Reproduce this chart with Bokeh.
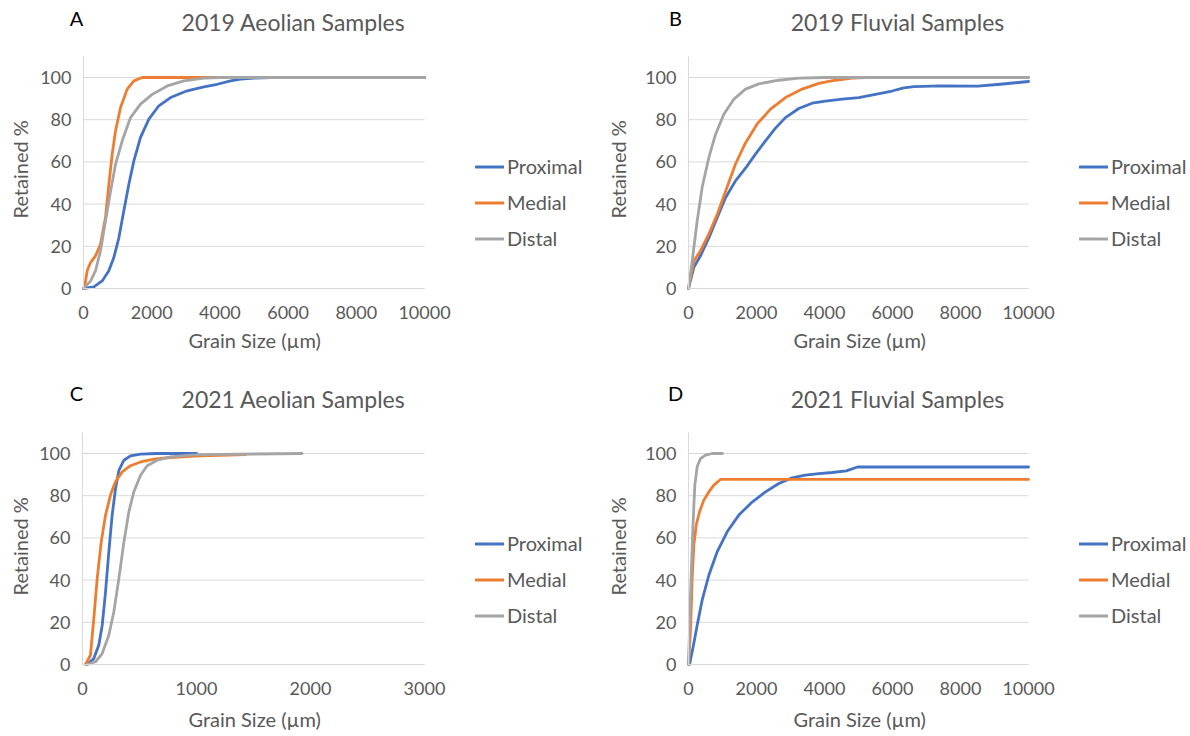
from bokeh.plotting import figure
from bokeh.models import Legend, LegendItem, Label, FixedTicker, Range1d, Title
from bokeh.layouts import column, row
from bokeh.embed import file_html
from bokeh.resources import INLINE

# ---------------- data ----------------
series_names = ["Proximal", "Medial", "Distal"]
colors = ["#4472C4", "#ED7D31", "#A5A5A5"]

# A: 2019 Aeolian
a_prox_x = [0, 303, 548, 743, 890, 1037, 1183, 1330, 1477, 1672, 1917, 2210, 2553, 3042, 3531, 3922, 4313, 4607, 5000, 5500, 10000]
a_prox_y = [0, 0.8, 3.6, 8.4, 14.7, 24, 36.8, 49.4, 60.5, 71.6, 80.3, 86.6, 90.5, 93.7, 95.6, 96.8, 98.4, 99.2, 99.7, 100, 100]
a_med_x = [0, 29, 108, 205, 352, 499, 645, 743, 841, 939, 1086, 1281, 1477, 1721, 10000]
a_med_y = [0, 0.5, 8.4, 12.3, 15.5, 21, 33.6, 49.4, 63.6, 74.7, 85.8, 94.5, 98.4, 100, 100]
a_dist_x = [0, 205, 352, 499, 645, 792, 939, 1135, 1379, 1672, 2015, 2455, 2944, 3531, 4020, 10000]
a_dist_y = [0, 3.5, 8.4, 17.9, 32, 46, 58.8, 70, 81, 87.4, 92, 96, 98.4, 99.7, 100, 100]

# B: 2019 Fluvial
b_prox_x = [0, 157, 353, 598, 843, 1088, 1382, 1676, 1970, 2264, 2558, 2852, 3244, 3636, 4028, 4518, 5008, 5498, 5988, 6331, 6630, 7403, 8508, 9171, 10000]
b_prox_y = [0, 10, 15.5, 24, 33.6, 43, 51, 57, 63.7, 70, 76, 81, 85.3, 87.8, 88.8, 89.7, 90.5, 92, 93.6, 95.1, 95.7, 96, 95.9, 96.8, 98.1]
b_med_x = [0, 157, 353, 598, 843, 1088, 1382, 1676, 2019, 2411, 2852, 3342, 3832, 4322, 4812, 5204, 10000]
b_med_y = [0, 13, 17.9, 25.8, 35, 46, 59, 69, 78, 85, 90.5, 94.5, 97.2, 98.7, 99.7, 100, 100]
b_dist_x = [0, 108, 255, 402, 598, 794, 1039, 1333, 1676, 2068, 2656, 3244, 4028, 10000]
b_dist_y = [0, 13, 32, 48, 62, 73, 82.6, 89.7, 94.5, 97, 98.7, 99.7, 100, 100]

# C: 2021 Aeolian
c_prox_x = [41, 99, 143, 173, 202, 231, 260, 290, 319, 363, 421, 509, 655, 1000]
c_prox_y = [0, 2.8, 9.2, 18.6, 34.4, 53.4, 70.8, 83.4, 92, 96.8, 98.9, 99.7, 100, 100]
c_med_x = [26, 70, 99, 129, 164, 202, 246, 290, 348, 421, 509, 626, 772, 947, 1035, 1279, 1428]
c_med_y = [0, 4.4, 21.8, 40.8, 58, 70.8, 80.4, 86.7, 91.3, 94.2, 96, 97.3, 98.1, 98.7, 98.9, 99.3, 99.5]
c_dist_x = [41, 114, 173, 231, 275, 319, 363, 407, 450, 509, 567, 655, 772, 947, 1035, 1926]
c_dist_y = [0, 1.3, 5.2, 13.9, 25, 40.8, 58, 72.4, 81.8, 89.7, 94.2, 96.8, 98.4, 99.2, 99.5, 100]

# D: 2021 Fluvial
d_prox_x = [30, 128, 255, 402, 598, 843, 1137, 1480, 1872, 2264, 2656, 3048, 3440, 3832, 4224, 4641, 4972, 10000]
d_prox_y = [0, 7.6, 18.6, 30.5, 42.3, 53.4, 62.9, 70.8, 77, 81.8, 85.8, 88.5, 89.7, 90.5, 91, 91.8, 93.6, 93.6]
d_med_x = [0, 59, 108, 157, 226, 324, 451, 598, 745, 941, 10000]
d_med_y = [0, 15.5, 40.8, 56.6, 66, 72.4, 77.9, 81.8, 85, 87.7, 87.7]
d_dist_x = [0, 59, 128, 186, 255, 353, 500, 696, 1000]
d_dist_y = [0, 32.9, 64.5, 85, 93.7, 97.6, 99.2, 100, 100]

y_ticks = [0, 20, 40, 60, 80, 100]
x_ticks_10k = [0, 2000, 4000, 6000, 8000, 10000]
x_ticks_3k = [0, 1000, 2000, 3000]

TXT = "#595959"
GRID = "#d9d9d9"
FONT = "Lato"
W = 595
H = 368
YMAX = 110


def panel(series, xmax, xticks, title, letter, geo):
    # geo: pixel geometry of this panel (layout only)
    fl = geo["frame_left"]        # left edge of the frame
    fb = geo["frame_bottom"]      # bottom edge of the frame
    x0 = geo["x0"]                # pixel of x = 0
    x1 = geo["x1"]                # pixel of x = xmax
    yb = geo["y0"]                # pixel of y = 0
    y100 = geo["y100"]            # pixel of y = 100
    ux = xmax / (x1 - x0)
    uy = 100.0 / (yb - y100)
    p = figure(width=W, height=H, output_backend="svg", toolbar_location=None,
               x_range=Range1d((fl - x0) * ux, (W - x0) * ux),
               y_range=Range1d(-(fb - yb) * uy, yb * uy),
               min_border_left=fl, min_border_right=0,
               min_border_top=0, min_border_bottom=H - fb)
    p.outline_line_color = None
    p.title.text = ""

    def dx(px):
        return (px - x0) * ux

    def dy(py):
        return (yb - py) * uy

    # horizontal gridlines at the tick values, spanning the axis extent
    p.segment(x0=[0] * len(y_ticks), x1=[xmax] * len(y_ticks), y0=y_ticks, y1=y_ticks,
              line_color=GRID, line_width=1, level="underlay")

    items = []
    for (xs, ys), name, col in zip(series, series_names, colors):
        r = p.line(xs, ys, line_color=col, line_width=2.8, line_join="round", line_cap="round")
        items.append(LegendItem(label=name, renderers=[r]))

    p.grid.visible = False
    p.xaxis.ticker = FixedTicker(ticks=xticks)
    p.yaxis.ticker = FixedTicker(ticks=y_ticks)
    p.xaxis.bounds = (0, xmax)
    p.yaxis.bounds = (0, YMAX)
    p.yaxis.fixed_location = 0
    p.xaxis.fixed_location = 0
    for ax in (p.xaxis, p.yaxis):
        ax.axis_line_color = GRID
        ax.axis_line_width = 1
        ax.major_tick_line_color = None
        ax.minor_tick_line_color = None
        ax.major_tick_out = 0
        ax.major_tick_in = 0
        ax.minor_tick_out = 0
        ax.minor_tick_in = 0
        ax.major_label_text_color = TXT
        ax.major_label_text_font = FONT
        ax.major_label_text_font_size = "18px"
    p.xaxis.major_label_standoff = 17
    p.yaxis.major_label_standoff = 12

    # axis titles
    p.add_layout(Title(text="Retained %", align="left", offset=geo["ylab_off"],
                       text_font=FONT, text_font_size="20px", text_font_style="normal",
                       text_color=TXT, standoff=0), "left")
    p.add_layout(Title(text="Grain Size (µm)", align="left", offset=geo["xlab_off"],
                       text_font=FONT, text_font_size="20px", text_font_style="normal",
                       text_color=TXT, standoff=4), "below")

    legend = Legend(items=items, location=(geo["leg_x"] - fl, fb - geo["leg_bottom"]),
                    orientation="vertical", border_line_color=None,
                    background_fill_alpha=0, padding=0, margin=0,
                    spacing=12, glyph_width=29, glyph_height=23,
                    label_height=23, label_standoff=3,
                    label_text_font=FONT, label_text_font_size="20px",
                    label_text_color=TXT)
    p.add_layout(legend, "center")

    p.add_layout(Label(x=dx(geo["title_cx"]), y=dy(geo["title_base"]), text=title,
                       text_align="center", text_baseline="alphabetic",
                       text_font=FONT, text_font_size="23px", text_color=TXT))
    p.add_layout(Label(x=dx(geo["letter_cx"]), y=dy(geo["letter_base"]), text=letter,
                       text_align="center", text_baseline="alphabetic",
                       text_font=FONT, text_font_size="20px", text_color="#000000"))
    return p


geo_a = dict(frame_left=31, frame_bottom=323, x0=83, x1=424, y0=288, y100=77, ylab_off=70 + 35,
             xlab_off=157, leg_x=475, leg_bottom=250, title_cx=293, title_base=21,
             letter_cx=76, letter_base=17)
geo_b = dict(frame_left=34, frame_bottom=323, x0=93, x1=433, y0=288, y100=77, ylab_off=70 + 35,
             xlab_off=164, leg_x=484, leg_bottom=250, title_cx=302, title_base=21,
             letter_cx=80, letter_base=17)
geo_c = dict(frame_left=31, frame_bottom=334, x0=82, x1=424, y0=296, y100=85, ylab_off=69 + 38,
             xlab_off=157, leg_x=475, leg_bottom=259, title_cx=293, title_base=30,
             letter_cx=76, letter_base=24)
geo_d = dict(frame_left=34, frame_bottom=334, x0=93, x1=433, y0=296, y100=85, ylab_off=69 + 38,
             xlab_off=164, leg_x=484, leg_bottom=259, title_cx=302, title_base=30,
             letter_cx=80, letter_base=24)

pa = panel([(a_prox_x, a_prox_y), (a_med_x, a_med_y), (a_dist_x, a_dist_y)],
           10000, x_ticks_10k, "2019 Aeolian Samples", "A", geo_a)
pb = panel([(b_prox_x, b_prox_y), (b_med_x, b_med_y), (b_dist_x, b_dist_y)],
           10000, x_ticks_10k, "2019 Fluvial Samples", "B", geo_b)
pc = panel([(c_prox_x, c_prox_y), (c_med_x, c_med_y), (c_dist_x, c_dist_y)],
           3000, x_ticks_3k, "2021 Aeolian Samples", "C", geo_c)
pd_ = panel([(d_prox_x, d_prox_y), (d_med_x, d_med_y), (d_dist_x, d_dist_y)],
            10000, x_ticks_10k, "2021 Fluvial Samples", "D", geo_d)

layout = column(row(pa, pb), row(pc, pd_))
open("out.html", "w").write(file_html(layout, INLINE))
